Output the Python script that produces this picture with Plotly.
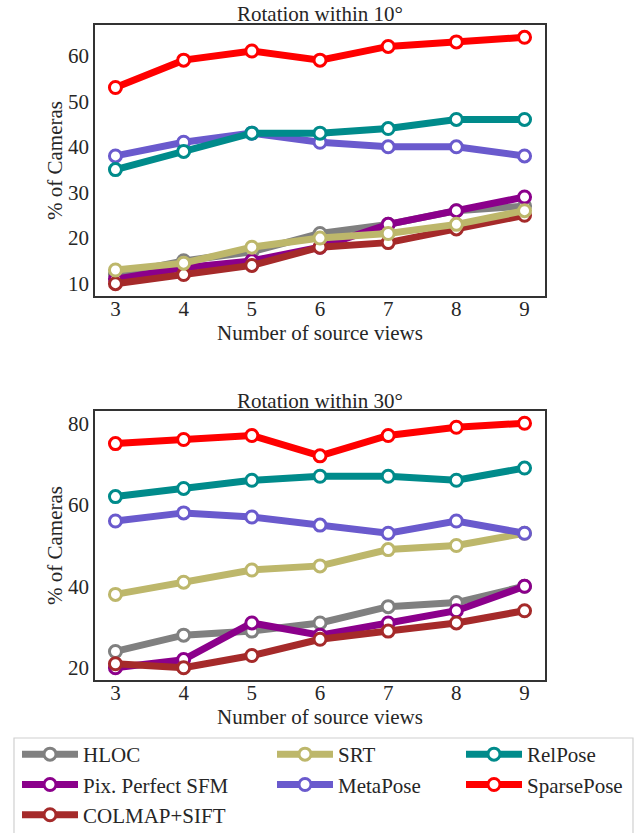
import plotly.graph_objects as go

x_views = [3, 4, 5, 6, 7, 8, 9]

methods = ["HLOC", "Pix. Perfect SFM", "COLMAP+SIFT", "SRT", "MetaPose", "RelPose", "SparsePose"]
colors = ["#808080", "#8B008B", "#A52A2A", "#BDB76B", "#6A5ACD", "#008B8B", "#FF0000"]

# Rotation within 10 degrees (% of cameras)
rot10_hloc = [12, 15, 17, 21, 23, 26, 27]
rot10_pix = [11, 13.5, 15, 18, 23, 26, 29]
rot10_colmap = [10, 12, 14, 18, 19, 22, 25]
rot10_srt = [13, 14.5, 18, 20, 21, 23, 26]
rot10_metapose = [38, 41, 43, 41, 40, 40, 38]
rot10_relpose = [35, 39, 43, 43, 44, 46, 46]
rot10_sparsepose = [53, 59, 61, 59, 62, 63, 64]

# Rotation within 30 degrees (% of cameras)
rot30_hloc = [24, 28, 29, 31, 35, 36, 40]
rot30_pix = [20, 22, 31, 28, 31, 34, 40]
rot30_colmap = [21, 20, 23, 27, 29, 31, 34]
rot30_srt = [38, 41, 44, 45, 49, 50, 53]
rot30_metapose = [56, 58, 57, 55, 53, 56, 53]
rot30_relpose = [62, 64, 66, 67, 67, 66, 69]
rot30_sparsepose = [75, 76, 77, 72, 77, 79, 80]

rot10 = [rot10_hloc, rot10_pix, rot10_colmap, rot10_srt, rot10_metapose, rot10_relpose, rot10_sparsepose]
rot30 = [rot30_hloc, rot30_pix, rot30_colmap, rot30_srt, rot30_metapose, rot30_relpose, rot30_sparsepose]
legend_ids = ["legend", "legend", "legend", "legend2", "legend2", "legend3", "legend3"]

W, H = 635, 833
ML = 95
MT = 25
MR = W - 545
MB = H - 680
PW, PH = W - ML - MR, H - MT - MB


def xp(px):  # pixel x -> paper fraction
    return (px - ML) / PW


def yp(py):  # pixel y -> paper fraction
    return (H - MB - py) / PH


FONT = "Liberation Serif, Times New Roman, Times, serif"
TXT = "#262626"

fig = go.Figure()
for i, name in enumerate(methods):
    for vals, xa, ya, show in [(rot10[i], "x", "y", True), (rot30[i], "x2", "y2", False)]:
        fig.add_trace(go.Scatter(
            x=x_views, y=vals, xaxis=xa, yaxis=ya, name=name,
            mode="lines+markers",
            line=dict(color=colors[i], width=7),
            marker=dict(size=12, color="white", line=dict(color=colors[i], width=3)),
            legend=legend_ids[i], legendgroup=name, showlegend=show,
        ))

top_dom = [yp(296), yp(25)]
bot_dom = [yp(680), yp(411)]

axis_common = dict(
    showline=True, mirror=True, linecolor="#333333", linewidth=1.5,
    showgrid=False, zeroline=False, ticks="", automargin=False,
    tickfont=dict(family=FONT, size=21, color=TXT),
    title_font=dict(family=FONT, size=21, color=TXT),
)
xaxis_common = dict(domain=[0, 1], range=[2.7, 9.3], tickvals=x_views, ticklabelstandoff=-7,
                    title=dict(text="Number of source views", standoff=0), **axis_common)
yaxis_common = dict(ticklabelstandoff=0, title=dict(text="% of Cameras", standoff=0), **axis_common)

fig.update_layout(
    width=W, height=H,
    margin=dict(l=ML, r=MR, t=MT, b=MB, autoexpand=False),
    paper_bgcolor="white", plot_bgcolor="white",
    hovermode=False,
    font=dict(family=FONT, size=21, color=TXT),
    xaxis=dict(anchor="y", **xaxis_common),
    yaxis=dict(domain=top_dom, anchor="x", range=[7.3, 66.7], tickvals=[10, 20, 30, 40, 50, 60],
               **yaxis_common),
    xaxis2=dict(anchor="y2", **xaxis_common),
    yaxis2=dict(domain=bot_dom, anchor="x2", range=[17, 83], tickvals=[20, 40, 60, 80],
                **yaxis_common),
    annotations=[
        dict(text="Rotation within 10°", xref="paper", yref="paper", x=0.5, y=yp(14),
             xanchor="center", yanchor="middle", showarrow=False,
             font=dict(family=FONT, size=21, color=TXT)),
        dict(text="Rotation within 30°", xref="paper", yref="paper", x=0.5, y=yp(401),
             xanchor="center", yanchor="middle", showarrow=False,
             font=dict(family=FONT, size=21, color=TXT)),
    ],
)

leg_common = dict(orientation="v", xanchor="left", yanchor="top", itemwidth=56,
                  font=dict(family=FONT, size=21, color=TXT), bgcolor="rgba(0,0,0,0)",
                  tracegroupgap=0, itemclick=False, itemdoubleclick=False)
leg_y = yp(734)
fig.update_layout(
    legend=dict(x=xp(17), y=leg_y, **leg_common),
    legend2=dict(x=xp(272), y=leg_y, **leg_common),
    legend3=dict(x=xp(461), y=leg_y, **leg_common),
)

# legend frame (light grey, runs off the bottom edge as in the reference)
fig.add_shape(type="rect", xref="paper", yref="paper", x0=xp(14), x1=xp(633), y0=yp(900), y1=yp(738),
              line=dict(color="#d0d0d0", width=1.2), fillcolor="rgba(0,0,0,0)", layer="below")

# remove the browser's default 8px body margin so the figure sits at the window corner
fig.write_html("out.html", config={"displayModeBar": False},
               post_script="document.body.style.margin='0px';")
